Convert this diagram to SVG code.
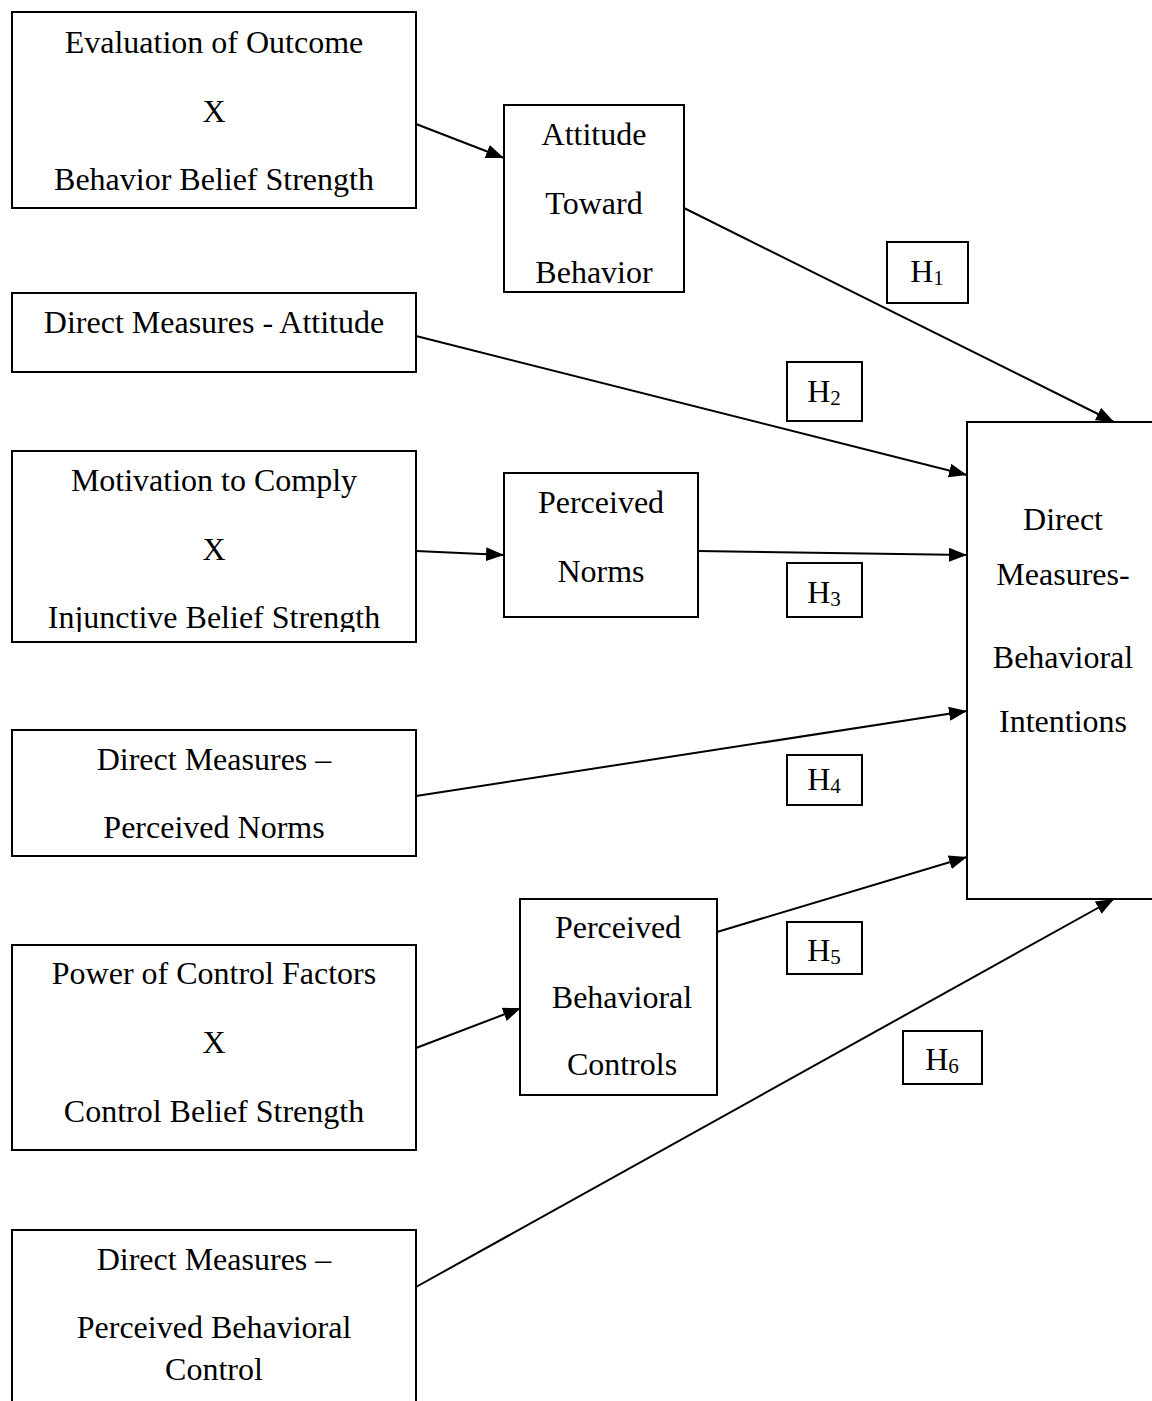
<svg xmlns="http://www.w3.org/2000/svg" width="1152" height="1401" viewBox="0 0 1152 1401">
<style>
rect.box{fill:#fff;stroke:#000;stroke-width:2}
text{font-family:"Liberation Serif","Times New Roman",serif;font-size:32px;fill:#000;text-anchor:middle}
.sub{font-size:21px}
line.c{stroke:#000;stroke-width:2}
</style>
<defs>
<marker id="ah" markerUnits="userSpaceOnUse" markerWidth="20" markerHeight="14" refX="18" refY="7" orient="auto">
<path d="M0,0 L18,7 L0,14 Z" fill="#000"/>
</marker>
<clipPath id="clipMot"><rect x="12" y="451" width="404" height="181"/></clipPath>
</defs>
<rect width="1152" height="1401" fill="#fff"/>

<g id="connectors">
<line class="c" x1="416" y1="124" x2="504" y2="158" marker-end="url(#ah)"/>
<line class="c" x1="684" y1="208" x2="1114" y2="422" marker-end="url(#ah)"/>
<line class="c" x1="416" y1="336" x2="967" y2="475" marker-end="url(#ah)"/>
<line class="c" x1="416" y1="551" x2="504" y2="555" marker-end="url(#ah)"/>
<line class="c" x1="698" y1="551" x2="967" y2="555" marker-end="url(#ah)"/>
<line class="c" x1="416" y1="796" x2="967" y2="711" marker-end="url(#ah)"/>
<line class="c" x1="717" y1="932" x2="967" y2="857" marker-end="url(#ah)"/>
<line class="c" x1="416" y1="1048" x2="521" y2="1008" marker-end="url(#ah)"/>
<line class="c" x1="416" y1="1287" x2="1114" y2="899" marker-end="url(#ah)"/>
</g>

<g id="eval">
<rect class="box" x="12" y="12" width="404" height="196"/>
<text x="214" y="53">Evaluation of Outcome</text>
<text x="214" y="122">X</text>
<text x="214" y="190">Behavior Belief Strength</text>
</g>

<g id="attitude">
<rect class="box" x="504" y="105" width="180" height="187"/>
<text x="594" y="145">Attitude</text>
<text x="594" y="214">Toward</text>
<text x="594" y="283">Behavior</text>
</g>

<g id="h1">
<rect class="box" x="887" y="242" width="81" height="61"/>
<text x="927" y="282"><tspan>H</tspan><tspan class="sub" dy="3">1</tspan></text>
</g>

<g id="dm-attitude">
<rect class="box" x="12" y="293" width="404" height="79"/>
<text x="214" y="333">Direct Measures - Attitude</text>
</g>

<g id="h2">
<rect class="box" x="787" y="362" width="75" height="59"/>
<text x="824" y="402"><tspan>H</tspan><tspan class="sub" dy="3">2</tspan></text>
</g>

<g id="motivation">
<rect class="box" x="12" y="451" width="404" height="191"/>
<text x="214" y="491">Motivation to Comply</text>
<text x="214" y="560">X</text>
<text x="214" y="628" clip-path="url(#clipMot)">Injunctive Belief Strength</text>
</g>

<g id="perceived-norms">
<rect class="box" x="504" y="473" width="194" height="144"/>
<text x="601" y="513">Perceived</text>
<text x="601" y="582">Norms</text>
</g>

<g id="h3">
<rect class="box" x="787" y="563" width="75" height="54"/>
<text x="824" y="603"><tspan>H</tspan><tspan class="sub" dy="3">3</tspan></text>
</g>

<g id="intentions">
<rect class="box" x="967" y="422" width="200" height="477"/>
<text x="1063" y="530">Direct</text>
<text x="1063" y="585">Measures-</text>
<text x="1063" y="668">Behavioral</text>
<text x="1063" y="732">Intentions</text>
</g>

<g id="dm-pn">
<rect class="box" x="12" y="730" width="404" height="126"/>
<text x="214" y="770">Direct Measures –</text>
<text x="214" y="838">Perceived Norms</text>
</g>

<g id="h4">
<rect class="box" x="787" y="755" width="75" height="50"/>
<text x="824" y="790"><tspan>H</tspan><tspan class="sub" dy="3">4</tspan></text>
</g>

<g id="pbc">
<rect class="box" x="520" y="899" width="197" height="196"/>
<text x="618" y="938">Perceived</text>
<text x="622" y="1008">Behavioral</text>
<text x="622" y="1075">Controls</text>
</g>

<g id="h5">
<rect class="box" x="787" y="922" width="75" height="52"/>
<text x="824" y="961"><tspan>H</tspan><tspan class="sub" dy="3">5</tspan></text>
</g>

<g id="power">
<rect class="box" x="12" y="945" width="404" height="205"/>
<text x="214" y="984">Power of Control Factors</text>
<text x="214" y="1053">X</text>
<text x="214" y="1122">Control Belief Strength</text>
</g>

<g id="h6">
<rect class="box" x="903" y="1031" width="79" height="53"/>
<text x="942" y="1070"><tspan>H</tspan><tspan class="sub" dy="3">6</tspan></text>
</g>

<g id="dm-pbc">
<rect class="box" x="12" y="1230" width="404" height="200"/>
<text x="214" y="1270">Direct Measures –</text>
<text x="214" y="1338">Perceived Behavioral</text>
<text x="214" y="1380">Control</text>
</g>
</svg>
